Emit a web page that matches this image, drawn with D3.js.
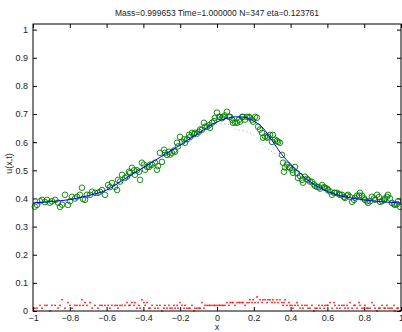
<!DOCTYPE html>
<html>
<head>
<meta charset="utf-8">
<script src="https://cdnjs.cloudflare.com/ajax/libs/d3/7.8.5/d3.min.js"></script>
<style>
  body { margin: 0; background: #fff; }
  text { font-family: "Liberation Sans", Arial, Helvetica, sans-serif; }
</style>
</head>
<body>
<div class="chart"></div>
<script>
// particle positions (x) with their values and errors
var xs = [
  -0.990,-0.978,-0.962,-0.951,-0.935,-0.924,-0.908,-0.897,-0.880,-0.864,
  -0.853,-0.842,-0.826,-0.810,-0.799,-0.788,-0.772,-0.761,-0.745,-0.734,
  -0.728,-0.717,-0.707,-0.690,-0.679,-0.663,-0.647,-0.636,-0.625,-0.609,
  -0.592,-0.582,-0.571,-0.554,-0.543,-0.538,-0.527,-0.516,-0.500,-0.489,
  -0.478,-0.473,-0.462,-0.451,-0.446,-0.435,-0.424,-0.418,-0.408,-0.397,
  -0.391,-0.380,-0.370,-0.364,-0.353,-0.337,-0.326,-0.321,-0.310,-0.299,
  -0.288,-0.283,-0.272,-0.261,-0.255,-0.245,-0.234,-0.228,-0.217,-0.212,
  -0.201,-0.190,-0.179,-0.174,-0.163,-0.152,-0.147,-0.136,-0.125,-0.120,
  -0.109,-0.098,-0.092,-0.082,-0.071,-0.065,-0.054,-0.043,-0.038,-0.027,
  -0.016,-0.011,0.000,0.011,0.016,0.027,0.033,0.043,0.054,0.065,
  0.071,0.082,0.087,0.098,0.109,0.120,0.125,0.136,0.141,0.152,
  0.163,0.174,0.179,0.190,0.196,0.207,0.217,0.223,0.234,0.245,
  0.250,0.261,0.272,0.277,0.288,0.299,0.304,0.315,0.326,0.332,
  0.342,0.353,0.359,0.364,0.370,0.380,0.391,0.397,0.408,0.413,
  0.424,0.435,0.440,0.451,0.462,0.467,0.478,0.489,0.495,0.505,
  0.516,0.527,0.533,0.543,0.554,0.560,0.571,0.582,0.587,0.598,
  0.603,0.614,0.625,0.636,0.641,0.652,0.663,0.668,0.679,0.690,
  0.696,0.707,0.712,0.723,0.734,0.745,0.750,0.761,0.772,0.777,
  0.788,0.799,0.804,0.815,0.821,0.832,0.842,0.853,0.859,0.870,
  0.880,0.886,0.897,0.908,0.913,0.924,0.929,0.940,0.951,0.962,
  0.967,0.978,0.984,0.995
];
var us = [
  0.371,0.377,0.390,0.395,0.387,0.395,0.385,0.390,0.395,0.385,
  0.370,0.378,0.413,0.377,0.390,0.406,0.400,0.406,0.413,0.438,
  0.398,0.395,0.413,0.413,0.424,0.420,0.420,0.424,0.430,0.413,
  0.448,0.440,0.455,0.441,0.430,0.466,0.460,0.484,0.473,0.478,
  0.495,0.490,0.509,0.500,0.484,0.500,0.495,0.466,0.527,0.520,
  0.502,0.512,0.512,0.520,0.520,0.527,0.502,0.515,0.562,0.530,
  0.573,0.562,0.555,0.566,0.556,0.562,0.570,0.566,0.598,0.585,
  0.619,0.601,0.610,0.598,0.610,0.626,0.618,0.633,0.628,0.633,
  0.630,0.637,0.645,0.644,0.669,0.655,0.655,0.660,0.651,0.669,
  0.675,0.687,0.705,0.690,0.690,0.685,0.690,0.695,0.708,0.690,
  0.690,0.680,0.669,0.670,0.669,0.680,0.673,0.690,0.690,0.680,
  0.690,0.690,0.687,0.680,0.673,0.690,0.687,0.655,0.645,0.633,
  0.616,0.620,0.616,0.620,0.626,0.601,0.626,0.609,0.605,0.601,
  0.598,0.555,0.527,0.495,0.510,0.520,0.512,0.509,0.502,0.491,
  0.512,0.490,0.473,0.480,0.466,0.456,0.477,0.470,0.466,0.460,
  0.459,0.450,0.445,0.441,0.440,0.435,0.448,0.440,0.438,0.435,
  0.430,0.425,0.413,0.420,0.420,0.420,0.415,0.413,0.413,0.405,
  0.402,0.410,0.413,0.405,0.388,0.395,0.402,0.410,0.410,0.420,
  0.410,0.400,0.395,0.390,0.384,0.390,0.406,0.400,0.395,0.413,
  0.405,0.388,0.390,0.395,0.400,0.406,0.413,0.400,0.384,0.380,
  0.377,0.380,0.390,0.370
];
var errs = [
  0.01,0.01,0.02,0.01,0.02,0.02,0,0.02,0.02,0.01,
  0.02,0.04,0.01,0.03,0.02,0.01,0.02,0.02,0.02,0.04,
  0.02,0.03,0.02,0.03,0.01,0.02,0.01,0.02,0.02,0.02,
  0.02,0.01,0.02,0.02,0.02,0.01,0.02,0.02,0.02,0.03,
  0.02,0.02,0.03,0.02,0.03,0.01,0.02,0.01,0.04,0.03,
  0.02,0.03,0.01,0.01,0.02,0.01,0.02,0.01,0.02,0,
  0.01,0.02,0.01,0.02,0.01,0.01,0.02,0.01,0.02,0.01,
  0.03,0.02,0.01,0.02,0.01,0.01,0.01,0.02,0,0.01,
  0.01,0.01,0.01,0.03,0.01,0.02,0.02,0.02,0.02,0.02,
  0.02,0.02,0.02,0.02,0.02,0.02,0.02,0.02,0.03,0.02,
  0.03,0.03,0.03,0.02,0.03,0.03,0.03,0.03,0.03,0.02,
  0.03,0.03,0.04,0.03,0.04,0.03,0.05,0.03,0.04,0.03,
  0.04,0.04,0.03,0.04,0.04,0.03,0.04,0.03,0.04,0.03,
  0.04,0.03,0.02,0.03,0.04,0.02,0.03,0.02,0.02,0.01,
  0.02,0.03,0.02,0.01,0.02,0.01,0.02,0.02,0.01,0.01,
  0.02,0,0.01,0.01,0.02,0.01,0.02,0.01,0.02,0.02,
  0.02,0.03,0.01,0.03,0.02,0.01,0.02,0.01,0.02,0.02,
  0.01,0.02,0.01,0.03,0.01,0.02,0.02,0.01,0.03,0.02,
  0.01,0.01,0.02,0.01,0.01,0.01,0.03,0.02,0.01,0,
  0.01,0.01,0.02,0.01,0.01,0.02,0.01,0.01,0.01,0.02,
  0,0.01,0.01,0
];

// exact solution (solid blue)
var exactX = [-1,-0.9,-0.8,-0.7,-0.6,-0.5,-0.4,-0.3,-0.2,-0.1,0,0.05,0.1,0.15,0.2,0.25,0.3,0.35,0.4,0.45,0.5,0.6,0.7,0.8,0.9,1];
var exactU = [0.384,0.389,0.396,0.41,0.43,0.47,0.51,0.55,0.59,0.632,0.672,0.684,0.69,0.689,0.675,0.65,0.605,0.558,0.522,0.49,0.462,0.425,0.405,0.395,0.388,0.384];

// smoothed estimate (dotted light blue)
var smoothX = [-1,-0.9,-0.8,-0.7,-0.6,-0.5,-0.4,-0.3,-0.2,-0.1,0,0.05,0.1,0.15,0.2,0.25,0.3,0.35,0.4,0.5,0.6,0.7,0.8,0.9,1];
var smoothU = [0.38,0.385,0.39,0.405,0.425,0.465,0.505,0.545,0.585,0.625,0.665,0.665,0.645,0.64,0.625,0.59,0.565,0.54,0.51,0.455,0.42,0.4,0.39,0.385,0.38];

var xTicks = [-1,-0.8,-0.6,-0.4,-0.2,0,0.2,0.4,0.6,0.8,1];
var yTicks = [0,0.1,0.2,0.3,0.4,0.5,0.6,0.7,0.8,0.9,1];
var titleText = 'Mass=0.999653 Time=1.000000 N=347 eta=0.123761';

var svgWidth = 402;
var svgHeight = 332;
var margin = {top: 24, right: 1, bottom: 21, left: 33};
var width = svgWidth - margin.left - margin.right;
var height = svgHeight - margin.top - margin.bottom;

var svg = d3.select('.chart')
    .append('svg')
    .attr('width', svgWidth)
    .attr('height', svgHeight)
    .append('g')
    .attr('transform', 'translate(' + margin.left + ',' + margin.top + ')');

var x = d3.scaleLinear().domain([-1, 1]).range([0, width]);
var y = d3.scaleLinear().domain([0, 1.02]).range([height, 0]);

var fmt = function(d) { return String(+d.toFixed(1)).replace('-', '\u2212'); };

// axes, ticks pointing inward on all four sides
function styleAxis(g) {
    g.select('.domain').remove();
    g.selectAll('line').attr('stroke', '#000');
    g.selectAll('text').attr('font-size', '9px').attr('fill', '#222');
}
svg.append('g')
    .attr('transform', 'translate(0,' + height + ')')
    .call(d3.axisBottom(x).tickValues(xTicks).tickFormat(fmt).tickSizeInner(-4).tickSizeOuter(0).tickPadding(4))
    .call(styleAxis);
svg.append('g')
    .call(d3.axisTop(x).tickValues(xTicks).tickFormat('').tickSizeInner(-4).tickSizeOuter(0))
    .call(styleAxis);
svg.append('g')
    .call(d3.axisLeft(y).tickValues(yTicks).tickFormat(fmt).tickSizeInner(-4).tickSizeOuter(0).tickPadding(5))
    .call(styleAxis);
svg.append('g')
    .attr('transform', 'translate(' + width + ',0)')
    .call(d3.axisRight(y).tickValues(yTicks).tickFormat('').tickSizeInner(-4).tickSizeOuter(0))
    .call(styleAxis);

var particles = xs.map(function(d, i) { return {x: d, u: us[i], e: errs[i]}; });

// circles
svg.append('g').selectAll('circle')
    .data(particles)
    .enter()
    .append('circle')
    .attr('cx', function(d) { return x(d.x); })
    .attr('cy', function(d) { return y(d.u); })
    .attr('r', 2.8)
    .attr('fill', 'none')
    .attr('stroke', '#008000')
    .attr('stroke-width', 0.9);

var line = d3.line()
    .x(function(d) { return x(d[0]); })
    .y(function(d) { return y(d[1]); })
    .curve(d3.curveMonotoneX);

svg.append('path')
    .datum(smoothX.map(function(d, i) { return [d, smoothU[i]]; }))
    .attr('d', line)
    .attr('fill', 'none')
    .attr('stroke', '#9a9aff')
    .attr('stroke-width', 1)
    .attr('stroke-dasharray', '1,3');

svg.append('path')
    .datum(exactX.map(function(d, i) { return [d, exactU[i]]; }))
    .attr('d', line)
    .attr('fill', 'none')
    .attr('stroke', '#0000ff')
    .attr('stroke-width', 1);

// error markers
svg.append('g').selectAll('rect')
    .data(particles)
    .enter()
    .append('rect')
    .attr('x', function(d) { return x(d.x) - 0.75; })
    .attr('y', function(d) { return y(d.e) - 0.75; })
    .attr('width', 1.5)
    .attr('height', 1.5)
    .attr('fill', '#ff0000');

// frame
svg.append('rect')
    .attr('width', width)
    .attr('height', height)
    .attr('fill', 'none')
    .attr('stroke', '#000')
    .attr('stroke-width', 1);

// title and labels
svg.append('text')
    .attr('x', width / 2)
    .attr('y', -8.5)
    .attr('text-anchor', 'middle')
    .attr('font-size', '8.5px')
    .attr('fill', '#222')
    .text(titleText);

svg.append('text')
    .attr('x', width / 2)
    .attr('y', height + 19)
    .attr('text-anchor', 'middle')
    .attr('font-size', '9px')
    .attr('fill', '#222')
    .text('x');

svg.append('text')
    .attr('transform', 'rotate(-90)')
    .attr('x', -height / 2 + 4)
    .attr('y', -21)
    .attr('text-anchor', 'middle')
    .attr('font-size', '9px')
    .attr('fill', '#222')
    .text('u(x,t)');
</script>
</body>
</html>
